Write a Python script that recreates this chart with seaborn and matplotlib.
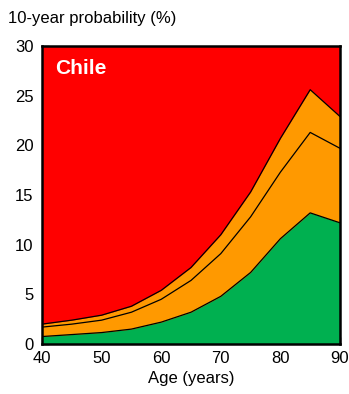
import numpy as np
import pandas as pd
import matplotlib
matplotlib.use("Agg")
import matplotlib.pyplot as plt
import seaborn as sns

# values (10-year probability, %)
age = [40, 45, 50, 55, 60, 65, 70, 75, 80, 85, 90]
green_top = [0.75, 0.95, 1.15, 1.5, 2.2, 3.2, 4.8, 7.2, 10.6, 13.2, 12.2]
middle_line = [1.7, 2.0, 2.4, 3.2, 4.5, 6.4, 9.1, 12.8, 17.3, 21.3, 19.7]
orange_top = [2.0, 2.4, 2.9, 3.8, 5.4, 7.7, 11.0, 15.3, 20.7, 25.6, 22.9]
y_max = 30

df = pd.DataFrame({"age": age, "green": green_top, "mid": middle_line, "orange": orange_top})

sns.set_style("ticks")
plt.rcParams["font.family"] = ["Liberation Sans", "DejaVu Sans"]
plt.rcParams["text.color"] = "black"
plt.rcParams["axes.labelcolor"] = "black"

fig = plt.figure(figsize=(3.49, 3.94), dpi=100)
ax = fig.add_axes([42 / 349, 1 - 344 / 394, 298 / 349, 298 / 394])

ax.fill_between(df["age"], 0, y_max, color="#FF0000", lw=0)
ax.fill_between(df["age"], 0, df["orange"], color="#FF9900", lw=0)
ax.fill_between(df["age"], 0, df["green"], color="#00B050", lw=0)
for col in ["green", "mid", "orange"]:
    sns.lineplot(data=df, x="age", y=col, color="black", lw=0.9, ax=ax)

ax.set_xlim(40, 90)
ax.set_ylim(0, 30)
ax.set_xticks(range(40, 91, 10))
ax.set_yticks(range(0, 31, 5))
ax.tick_params(direction="in", length=5, width=1, labelsize=12, colors="black")
ax.tick_params(axis="x", pad=5)
ax.tick_params(axis="y", pad=6)
for s in ax.spines.values():
    s.set_linewidth(1.8)
    s.set_color("black")
ax.set_xlabel("Age (years)", fontsize=12, labelpad=4)
ax.set_ylabel("")
fig.text(8 / 349, 1 - 18 / 394, "10-year probability (%)", fontsize=12, va="center", ha="left")
ax.text(0.045, 0.925, "Chile", transform=ax.transAxes, color="white", fontsize=15,
        fontweight="bold", va="center", ha="left")

fig.savefig("out.png", dpi=100)
